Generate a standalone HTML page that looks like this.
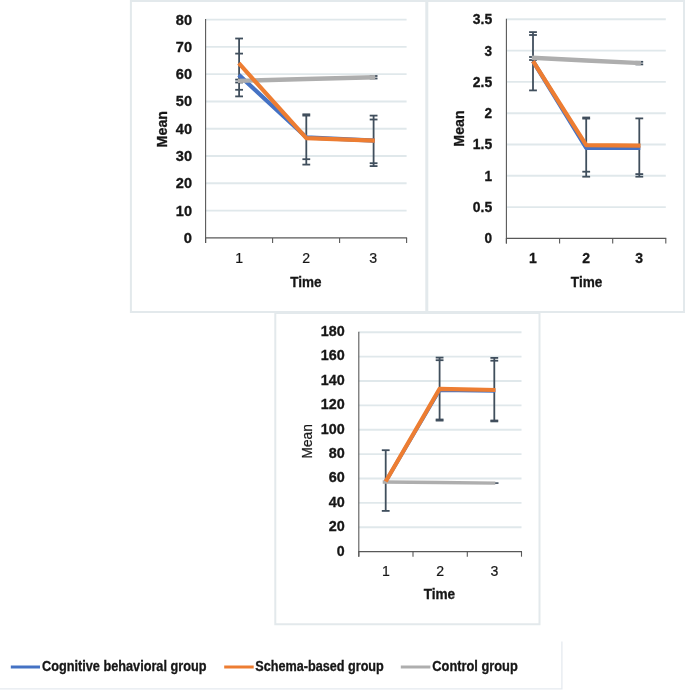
<!DOCTYPE html>
<html><head><meta charset="utf-8"><title>Figure</title>
<style>html,body{margin:0;padding:0;background:#fff;}svg{display:block;}</style></head><body>
<svg width="685" height="694" viewBox="0 0 685 694">
<defs><filter id="soft" x="0" y="0" width="685" height="694" filterUnits="userSpaceOnUse"><feGaussianBlur stdDeviation="0.45"/></filter></defs>
<rect x="0" y="0" width="685" height="694" fill="#ffffff"/>
<g filter="url(#soft)">
<path d="M130.9 311.9 V1.1 H684.0 V311.9 Z" fill="none" stroke="#E3E9EC" stroke-width="2.0"/>
<path d="M426.8 1.1 V311.9" fill="none" stroke="#E3E9EC" stroke-width="3.0"/>
<path d="M275.3 313.1 V624.3 H539.5 V313.1 Z" fill="none" stroke="#E3E9EC" stroke-width="2.0"/>
<path d="M0 688.9 H561.9 V641.6" fill="none" stroke="#E5EAEF" stroke-width="1.3"/>
<line x1="205.6" y1="210.61" x2="406.6" y2="210.61" stroke="#E0E8EB" stroke-width="1.9"/>
<line x1="205.6" y1="183.32" x2="406.6" y2="183.32" stroke="#E0E8EB" stroke-width="1.9"/>
<line x1="205.6" y1="156.03" x2="406.6" y2="156.03" stroke="#E0E8EB" stroke-width="1.9"/>
<line x1="205.6" y1="128.74" x2="406.6" y2="128.74" stroke="#E0E8EB" stroke-width="1.9"/>
<line x1="205.6" y1="101.45" x2="406.6" y2="101.45" stroke="#E0E8EB" stroke-width="1.9"/>
<line x1="205.6" y1="74.16" x2="406.6" y2="74.16" stroke="#E0E8EB" stroke-width="1.9"/>
<line x1="205.6" y1="46.87" x2="406.6" y2="46.87" stroke="#E0E8EB" stroke-width="1.9"/>
<line x1="205.6" y1="19.58" x2="406.6" y2="19.58" stroke="#E0E8EB" stroke-width="1.9"/>
<line x1="205.6" y1="19.1" x2="205.6" y2="242.9" stroke="#585858" stroke-width="1.1"/>
<line x1="205.1" y1="237.9" x2="407.1" y2="237.9" stroke="#585858" stroke-width="1.3"/>
<line x1="205.6" y1="237.9" x2="205.6" y2="242.9" stroke="#585858" stroke-width="1.1"/>
<line x1="272.6" y1="237.9" x2="272.6" y2="242.9" stroke="#585858" stroke-width="1.1"/>
<line x1="339.6" y1="237.9" x2="339.6" y2="242.9" stroke="#585858" stroke-width="1.1"/>
<line x1="406.6" y1="237.9" x2="406.6" y2="242.9" stroke="#585858" stroke-width="1.1"/>
<text x="192" y="242.87" font-size="13.8" font-family="Liberation Sans, sans-serif" font-weight="bold" text-anchor="end" textLength="8.2" lengthAdjust="spacingAndGlyphs" fill="#161616" stroke="#161616" stroke-width="0.3">0</text>
<text x="192" y="215.58" font-size="13.8" font-family="Liberation Sans, sans-serif" font-weight="bold" text-anchor="end" textLength="16.2" lengthAdjust="spacingAndGlyphs" fill="#161616" stroke="#161616" stroke-width="0.3">10</text>
<text x="192" y="188.29" font-size="13.8" font-family="Liberation Sans, sans-serif" font-weight="bold" text-anchor="end" textLength="16.2" lengthAdjust="spacingAndGlyphs" fill="#161616" stroke="#161616" stroke-width="0.3">20</text>
<text x="192" y="161.0" font-size="13.8" font-family="Liberation Sans, sans-serif" font-weight="bold" text-anchor="end" textLength="16.2" lengthAdjust="spacingAndGlyphs" fill="#161616" stroke="#161616" stroke-width="0.3">30</text>
<text x="192" y="133.71" font-size="13.8" font-family="Liberation Sans, sans-serif" font-weight="bold" text-anchor="end" textLength="16.2" lengthAdjust="spacingAndGlyphs" fill="#161616" stroke="#161616" stroke-width="0.3">40</text>
<text x="192" y="106.42" font-size="13.8" font-family="Liberation Sans, sans-serif" font-weight="bold" text-anchor="end" textLength="16.2" lengthAdjust="spacingAndGlyphs" fill="#161616" stroke="#161616" stroke-width="0.3">50</text>
<text x="192" y="79.13" font-size="13.8" font-family="Liberation Sans, sans-serif" font-weight="bold" text-anchor="end" textLength="16.2" lengthAdjust="spacingAndGlyphs" fill="#161616" stroke="#161616" stroke-width="0.3">60</text>
<text x="192" y="51.84" font-size="13.8" font-family="Liberation Sans, sans-serif" font-weight="bold" text-anchor="end" textLength="16.2" lengthAdjust="spacingAndGlyphs" fill="#161616" stroke="#161616" stroke-width="0.3">70</text>
<text x="192" y="24.55" font-size="13.8" font-family="Liberation Sans, sans-serif" font-weight="bold" text-anchor="end" textLength="16.2" lengthAdjust="spacingAndGlyphs" fill="#161616" stroke="#161616" stroke-width="0.3">80</text>
<text x="239.1" y="263.3" font-size="14.1" font-family="Liberation Sans, sans-serif" text-anchor="middle" fill="#161616" stroke="#161616" stroke-width="0.2">1</text>
<text x="306.1" y="263.3" font-size="14.1" font-family="Liberation Sans, sans-serif" text-anchor="middle" fill="#161616" stroke="#161616" stroke-width="0.2">2</text>
<text x="373.1" y="263.3" font-size="14.1" font-family="Liberation Sans, sans-serif" text-anchor="middle" fill="#161616" stroke="#161616" stroke-width="0.2">3</text>
<text x="306" y="287.3" font-size="14" font-family="Liberation Sans, sans-serif" font-weight="bold" text-anchor="middle" textLength="31.3" lengthAdjust="spacingAndGlyphs" fill="#161616" stroke="#161616" stroke-width="0.3">Time</text>
<text x="166.7" y="129.2" font-size="14" font-family="Liberation Sans, sans-serif" font-weight="bold" text-anchor="middle" textLength="36.4" lengthAdjust="spacingAndGlyphs" transform="rotate(-90 166.7 129.2)" fill="#161616" stroke="#161616" stroke-width="0.3">Mean</text>
<line x1="239.1" y1="38.5" x2="239.1" y2="96.4" stroke="#414F5D" stroke-width="1.8"/>
<line x1="235.2" y1="38.5" x2="243.0" y2="38.5" stroke="#414F5D" stroke-width="1.8"/>
<line x1="235.2" y1="53.6" x2="243.0" y2="53.6" stroke="#414F5D" stroke-width="1.8"/>
<line x1="235.2" y1="79.6" x2="243.0" y2="79.6" stroke="#414F5D" stroke-width="1.8"/>
<line x1="235.2" y1="82.5" x2="243.0" y2="82.5" stroke="#414F5D" stroke-width="1.8"/>
<line x1="235.2" y1="89.8" x2="243.0" y2="89.8" stroke="#414F5D" stroke-width="1.8"/>
<line x1="235.2" y1="96.4" x2="243.0" y2="96.4" stroke="#414F5D" stroke-width="1.8"/>
<line x1="306.3" y1="114.6" x2="306.3" y2="164.6" stroke="#414F5D" stroke-width="1.8"/>
<line x1="302.40000000000003" y1="114.3" x2="310.2" y2="114.3" stroke="#414F5D" stroke-width="1.8"/>
<line x1="302.40000000000003" y1="115.6" x2="310.2" y2="115.6" stroke="#414F5D" stroke-width="1.8"/>
<line x1="302.40000000000003" y1="159.2" x2="310.2" y2="159.2" stroke="#414F5D" stroke-width="1.8"/>
<line x1="302.40000000000003" y1="164.6" x2="310.2" y2="164.6" stroke="#414F5D" stroke-width="1.8"/>
<line x1="373.6" y1="115.6" x2="373.6" y2="166.1" stroke="#414F5D" stroke-width="1.8"/>
<line x1="369.70000000000005" y1="115.6" x2="377.5" y2="115.6" stroke="#414F5D" stroke-width="1.8"/>
<line x1="369.70000000000005" y1="119.5" x2="377.5" y2="119.5" stroke="#414F5D" stroke-width="1.8"/>
<line x1="369.70000000000005" y1="163.2" x2="377.5" y2="163.2" stroke="#414F5D" stroke-width="1.8"/>
<line x1="369.70000000000005" y1="166.1" x2="377.5" y2="166.1" stroke="#414F5D" stroke-width="1.8"/>
<line x1="373.6" y1="76" x2="373.6" y2="78.5" stroke="#414F5D" stroke-width="1.8"/>
<line x1="369.70000000000005" y1="76" x2="377.5" y2="76" stroke="#414F5D" stroke-width="1.8"/>
<line x1="369.70000000000005" y1="78.5" x2="377.5" y2="78.5" stroke="#414F5D" stroke-width="1.8"/>
<polyline points="238.79999999999998,74.9 306.3,137.3 374.6,140.55" fill="none" stroke="#4472C4" stroke-width="4.2" stroke-linejoin="round" stroke-linecap="butt"/>
<polyline points="237.9,80.9 306.3,79 375.20000000000005,77.2" fill="none" stroke="#AEAEAE" stroke-width="4.4" stroke-linejoin="round" stroke-linecap="butt"/>
<polyline points="238.79999999999998,63.2 306.3,138.2 374.8,140.55" fill="none" stroke="#ED7D31" stroke-width="4.2" stroke-linejoin="round" stroke-linecap="butt"/>
<line x1="506.4" y1="207.1" x2="665.8" y2="207.1" stroke="#E0E8EB" stroke-width="1.9"/>
<line x1="506.4" y1="175.8" x2="665.8" y2="175.8" stroke="#E0E8EB" stroke-width="1.9"/>
<line x1="506.4" y1="144.5" x2="665.8" y2="144.5" stroke="#E0E8EB" stroke-width="1.9"/>
<line x1="506.4" y1="113.2" x2="665.8" y2="113.2" stroke="#E0E8EB" stroke-width="1.9"/>
<line x1="506.4" y1="81.9" x2="665.8" y2="81.9" stroke="#E0E8EB" stroke-width="1.9"/>
<line x1="506.4" y1="50.6" x2="665.8" y2="50.6" stroke="#E0E8EB" stroke-width="1.9"/>
<line x1="506.4" y1="19.3" x2="665.8" y2="19.3" stroke="#E0E8EB" stroke-width="1.9"/>
<line x1="506.4" y1="18.8" x2="506.4" y2="243.4" stroke="#585858" stroke-width="1.1"/>
<line x1="505.9" y1="238.4" x2="666.3" y2="238.4" stroke="#585858" stroke-width="1.3"/>
<line x1="506.4" y1="238.4" x2="506.4" y2="243.4" stroke="#585858" stroke-width="1.1"/>
<line x1="559.6" y1="238.4" x2="559.6" y2="243.4" stroke="#585858" stroke-width="1.1"/>
<line x1="612.7" y1="238.4" x2="612.7" y2="243.4" stroke="#585858" stroke-width="1.1"/>
<line x1="665.8" y1="238.4" x2="665.8" y2="243.4" stroke="#585858" stroke-width="1.1"/>
<text x="492.2" y="243.37" font-size="13.8" font-family="Liberation Sans, sans-serif" font-weight="bold" text-anchor="end" textLength="7.6" lengthAdjust="spacingAndGlyphs" fill="#161616" stroke="#161616" stroke-width="0.3">0</text>
<text x="492.2" y="212.07" font-size="13.8" font-family="Liberation Sans, sans-serif" font-weight="bold" text-anchor="end" textLength="19.4" lengthAdjust="spacingAndGlyphs" fill="#161616" stroke="#161616" stroke-width="0.3">0.5</text>
<text x="492.2" y="180.77" font-size="13.8" font-family="Liberation Sans, sans-serif" font-weight="bold" text-anchor="end" textLength="7.6" lengthAdjust="spacingAndGlyphs" fill="#161616" stroke="#161616" stroke-width="0.3">1</text>
<text x="492.2" y="149.47" font-size="13.8" font-family="Liberation Sans, sans-serif" font-weight="bold" text-anchor="end" textLength="19.4" lengthAdjust="spacingAndGlyphs" fill="#161616" stroke="#161616" stroke-width="0.3">1.5</text>
<text x="492.2" y="118.17" font-size="13.8" font-family="Liberation Sans, sans-serif" font-weight="bold" text-anchor="end" textLength="7.6" lengthAdjust="spacingAndGlyphs" fill="#161616" stroke="#161616" stroke-width="0.3">2</text>
<text x="492.2" y="86.87" font-size="13.8" font-family="Liberation Sans, sans-serif" font-weight="bold" text-anchor="end" textLength="19.4" lengthAdjust="spacingAndGlyphs" fill="#161616" stroke="#161616" stroke-width="0.3">2.5</text>
<text x="492.2" y="55.57" font-size="13.8" font-family="Liberation Sans, sans-serif" font-weight="bold" text-anchor="end" textLength="7.6" lengthAdjust="spacingAndGlyphs" fill="#161616" stroke="#161616" stroke-width="0.3">3</text>
<text x="492.2" y="24.27" font-size="13.8" font-family="Liberation Sans, sans-serif" font-weight="bold" text-anchor="end" textLength="19.4" lengthAdjust="spacingAndGlyphs" fill="#161616" stroke="#161616" stroke-width="0.3">3.5</text>
<text x="533.0" y="263.3" font-size="14.0" font-family="Liberation Sans, sans-serif" font-weight="bold" text-anchor="middle" fill="#161616" stroke="#161616" stroke-width="0.3">1</text>
<text x="586.2" y="263.3" font-size="14.0" font-family="Liberation Sans, sans-serif" font-weight="bold" text-anchor="middle" fill="#161616" stroke="#161616" stroke-width="0.3">2</text>
<text x="639.2" y="263.3" font-size="14.0" font-family="Liberation Sans, sans-serif" font-weight="bold" text-anchor="middle" fill="#161616" stroke="#161616" stroke-width="0.3">3</text>
<text x="586.6" y="287.3" font-size="14" font-family="Liberation Sans, sans-serif" font-weight="bold" text-anchor="middle" textLength="31.5" lengthAdjust="spacingAndGlyphs" fill="#161616" stroke="#161616" stroke-width="0.3">Time</text>
<text x="463.8" y="128.5" font-size="14" font-family="Liberation Sans, sans-serif" font-weight="bold" text-anchor="middle" textLength="36.3" lengthAdjust="spacingAndGlyphs" transform="rotate(-90 463.8 128.5)" fill="#161616" stroke="#161616" stroke-width="0.3">Mean</text>
<line x1="533" y1="32.1" x2="533" y2="90.4" stroke="#414F5D" stroke-width="1.8"/>
<line x1="529.1" y1="32.1" x2="536.9" y2="32.1" stroke="#414F5D" stroke-width="1.8"/>
<line x1="529.1" y1="35" x2="536.9" y2="35" stroke="#414F5D" stroke-width="1.8"/>
<line x1="529.1" y1="57" x2="536.9" y2="57" stroke="#414F5D" stroke-width="1.8"/>
<line x1="529.1" y1="60" x2="536.9" y2="60" stroke="#414F5D" stroke-width="1.8"/>
<line x1="529.1" y1="90.4" x2="536.9" y2="90.4" stroke="#414F5D" stroke-width="1.8"/>
<line x1="586.2" y1="117.9" x2="586.2" y2="176.7" stroke="#414F5D" stroke-width="1.8"/>
<line x1="582.3000000000001" y1="117.5" x2="590.1" y2="117.5" stroke="#414F5D" stroke-width="1.8"/>
<line x1="582.3000000000001" y1="118.6" x2="590.1" y2="118.6" stroke="#414F5D" stroke-width="1.8"/>
<line x1="582.3000000000001" y1="171.7" x2="590.1" y2="171.7" stroke="#414F5D" stroke-width="1.8"/>
<line x1="582.3000000000001" y1="176.7" x2="590.1" y2="176.7" stroke="#414F5D" stroke-width="1.8"/>
<line x1="639.3" y1="118.4" x2="639.3" y2="176.7" stroke="#414F5D" stroke-width="1.8"/>
<line x1="635.4" y1="118.4" x2="643.1999999999999" y2="118.4" stroke="#414F5D" stroke-width="1.8"/>
<line x1="635.4" y1="174.1" x2="643.1999999999999" y2="174.1" stroke="#414F5D" stroke-width="1.8"/>
<line x1="635.4" y1="176.7" x2="643.1999999999999" y2="176.7" stroke="#414F5D" stroke-width="1.8"/>
<line x1="639.3" y1="61.8" x2="639.3" y2="64.4" stroke="#414F5D" stroke-width="1.8"/>
<line x1="635.4" y1="61.8" x2="643.1999999999999" y2="61.8" stroke="#414F5D" stroke-width="1.8"/>
<line x1="635.4" y1="64.4" x2="643.1999999999999" y2="64.4" stroke="#414F5D" stroke-width="1.8"/>
<polyline points="533,61.2 586.2,147.8 640.3,148" fill="none" stroke="#4472C4" stroke-width="4.2" stroke-linejoin="round" stroke-linecap="butt"/>
<polyline points="531.8,57.8 586.2,60.5 640.9,63.1" fill="none" stroke="#AEAEAE" stroke-width="4.4" stroke-linejoin="round" stroke-linecap="butt"/>
<polyline points="533,61.2 586.2,145.2 640.5,145.7" fill="none" stroke="#ED7D31" stroke-width="4.2" stroke-linejoin="round" stroke-linecap="butt"/>
<line x1="358.8" y1="527.31" x2="521.5" y2="527.31" stroke="#E0E8EB" stroke-width="1.9"/>
<line x1="358.8" y1="502.92" x2="521.5" y2="502.92" stroke="#E0E8EB" stroke-width="1.9"/>
<line x1="358.8" y1="478.53" x2="521.5" y2="478.53" stroke="#E0E8EB" stroke-width="1.9"/>
<line x1="358.8" y1="454.14" x2="521.5" y2="454.14" stroke="#E0E8EB" stroke-width="1.9"/>
<line x1="358.8" y1="429.75" x2="521.5" y2="429.75" stroke="#E0E8EB" stroke-width="1.9"/>
<line x1="358.8" y1="405.36" x2="521.5" y2="405.36" stroke="#E0E8EB" stroke-width="1.9"/>
<line x1="358.8" y1="380.97" x2="521.5" y2="380.97" stroke="#E0E8EB" stroke-width="1.9"/>
<line x1="358.8" y1="356.58" x2="521.5" y2="356.58" stroke="#E0E8EB" stroke-width="1.9"/>
<line x1="358.8" y1="332.19" x2="521.5" y2="332.19" stroke="#E0E8EB" stroke-width="1.9"/>
<line x1="358.8" y1="331.7" x2="358.8" y2="556.7" stroke="#585858" stroke-width="1.1"/>
<line x1="358.3" y1="551.7" x2="522.0" y2="551.7" stroke="#585858" stroke-width="1.3"/>
<line x1="358.8" y1="551.7" x2="358.8" y2="556.7" stroke="#585858" stroke-width="1.1"/>
<line x1="413" y1="551.7" x2="413" y2="556.7" stroke="#585858" stroke-width="1.1"/>
<line x1="467.3" y1="551.7" x2="467.3" y2="556.7" stroke="#585858" stroke-width="1.1"/>
<line x1="521.5" y1="551.7" x2="521.5" y2="556.7" stroke="#585858" stroke-width="1.1"/>
<text x="344.7" y="555.6" font-size="13.8" font-family="Liberation Sans, sans-serif" font-weight="bold" text-anchor="end" textLength="7.9" lengthAdjust="spacingAndGlyphs" fill="#161616" stroke="#161616" stroke-width="0.3">0</text>
<text x="344.7" y="531.21" font-size="13.8" font-family="Liberation Sans, sans-serif" font-weight="bold" text-anchor="end" textLength="16.0" lengthAdjust="spacingAndGlyphs" fill="#161616" stroke="#161616" stroke-width="0.3">20</text>
<text x="344.7" y="506.82" font-size="13.8" font-family="Liberation Sans, sans-serif" font-weight="bold" text-anchor="end" textLength="16.0" lengthAdjust="spacingAndGlyphs" fill="#161616" stroke="#161616" stroke-width="0.3">40</text>
<text x="344.7" y="482.43" font-size="13.8" font-family="Liberation Sans, sans-serif" font-weight="bold" text-anchor="end" textLength="16.0" lengthAdjust="spacingAndGlyphs" fill="#161616" stroke="#161616" stroke-width="0.3">60</text>
<text x="344.7" y="458.04" font-size="13.8" font-family="Liberation Sans, sans-serif" font-weight="bold" text-anchor="end" textLength="16.0" lengthAdjust="spacingAndGlyphs" fill="#161616" stroke="#161616" stroke-width="0.3">80</text>
<text x="344.7" y="433.65" font-size="13.8" font-family="Liberation Sans, sans-serif" font-weight="bold" text-anchor="end" textLength="23.9" lengthAdjust="spacingAndGlyphs" fill="#161616" stroke="#161616" stroke-width="0.3">100</text>
<text x="344.7" y="409.26" font-size="13.8" font-family="Liberation Sans, sans-serif" font-weight="bold" text-anchor="end" textLength="23.9" lengthAdjust="spacingAndGlyphs" fill="#161616" stroke="#161616" stroke-width="0.3">120</text>
<text x="344.7" y="384.87" font-size="13.8" font-family="Liberation Sans, sans-serif" font-weight="bold" text-anchor="end" textLength="23.9" lengthAdjust="spacingAndGlyphs" fill="#161616" stroke="#161616" stroke-width="0.3">140</text>
<text x="344.7" y="360.48" font-size="13.8" font-family="Liberation Sans, sans-serif" font-weight="bold" text-anchor="end" textLength="23.9" lengthAdjust="spacingAndGlyphs" fill="#161616" stroke="#161616" stroke-width="0.3">160</text>
<text x="344.7" y="336.09" font-size="13.8" font-family="Liberation Sans, sans-serif" font-weight="bold" text-anchor="end" textLength="23.9" lengthAdjust="spacingAndGlyphs" fill="#161616" stroke="#161616" stroke-width="0.3">180</text>
<text x="385.9" y="575.8" font-size="14.1" font-family="Liberation Sans, sans-serif" text-anchor="middle" fill="#161616" stroke="#161616" stroke-width="0.2">1</text>
<text x="440.1" y="575.8" font-size="14.1" font-family="Liberation Sans, sans-serif" text-anchor="middle" fill="#161616" stroke="#161616" stroke-width="0.2">2</text>
<text x="494.4" y="575.8" font-size="14.1" font-family="Liberation Sans, sans-serif" text-anchor="middle" fill="#161616" stroke="#161616" stroke-width="0.2">3</text>
<text x="439.4" y="599.2" font-size="14" font-family="Liberation Sans, sans-serif" font-weight="bold" text-anchor="middle" textLength="31.5" lengthAdjust="spacingAndGlyphs" fill="#161616" stroke="#161616" stroke-width="0.3">Time</text>
<text x="311.9" y="441.3" font-size="14" font-family="Liberation Sans, sans-serif" text-anchor="middle" textLength="34.2" lengthAdjust="spacingAndGlyphs" transform="rotate(-90 311.9 441.3)" fill="#161616" stroke="#161616" stroke-width="0.2">Mean</text>
<line x1="385.7" y1="450.2" x2="385.7" y2="510.9" stroke="#414F5D" stroke-width="1.8"/>
<line x1="381.8" y1="450.2" x2="389.59999999999997" y2="450.2" stroke="#414F5D" stroke-width="1.8"/>
<line x1="381.8" y1="510.9" x2="389.59999999999997" y2="510.9" stroke="#414F5D" stroke-width="1.8"/>
<line x1="439.6" y1="357.6" x2="439.6" y2="420.2" stroke="#414F5D" stroke-width="1.8"/>
<line x1="435.70000000000005" y1="357.6" x2="443.5" y2="357.6" stroke="#414F5D" stroke-width="1.8"/>
<line x1="435.70000000000005" y1="360.2" x2="443.5" y2="360.2" stroke="#414F5D" stroke-width="1.8"/>
<line x1="435.70000000000005" y1="419.5" x2="443.5" y2="419.5" stroke="#414F5D" stroke-width="1.8"/>
<line x1="435.70000000000005" y1="420.6" x2="443.5" y2="420.6" stroke="#414F5D" stroke-width="1.8"/>
<line x1="494.3" y1="357.9" x2="494.3" y2="420.9" stroke="#414F5D" stroke-width="1.8"/>
<line x1="490.40000000000003" y1="357.9" x2="498.2" y2="357.9" stroke="#414F5D" stroke-width="1.8"/>
<line x1="490.40000000000003" y1="360.7" x2="498.2" y2="360.7" stroke="#414F5D" stroke-width="1.8"/>
<line x1="490.40000000000003" y1="420.5" x2="498.2" y2="420.5" stroke="#414F5D" stroke-width="1.8"/>
<line x1="490.40000000000003" y1="421.4" x2="498.2" y2="421.4" stroke="#414F5D" stroke-width="1.8"/>
<polyline points="385.7,481.5 439.6,390.2 495.3,391.0" fill="none" stroke="#4472C4" stroke-width="3.6" stroke-linejoin="round" stroke-linecap="butt"/>
<line x1="494.3" y1="482.7" x2="494.3" y2="483.5" stroke="#414F5D" stroke-width="1.6"/>
<line x1="490.1" y1="483.1" x2="498.5" y2="483.1" stroke="#414F5D" stroke-width="1.6"/>
<polyline points="382.7,482 439.6,482.5 495.3,483.1" fill="none" stroke="#AEAEAE" stroke-width="3.3" stroke-linejoin="round" stroke-linecap="butt"/>
<polyline points="385.7,481.5 439.6,388.8 495.5,390.0" fill="none" stroke="#ED7D31" stroke-width="4.2" stroke-linejoin="round" stroke-linecap="butt"/>
<line x1="10.8" y1="667" x2="40" y2="667" stroke="#4472C4" stroke-width="3.0"/>
<text x="42" y="671.2" font-size="13.8" font-family="Liberation Sans, sans-serif" font-weight="bold" text-anchor="start" textLength="164.5" lengthAdjust="spacingAndGlyphs" fill="#161616" stroke="#161616" stroke-width="0.3">Cognitive behavioral group</text>
<line x1="224.2" y1="667" x2="253.7" y2="667" stroke="#ED7D31" stroke-width="3.0"/>
<text x="255.3" y="671.2" font-size="13.8" font-family="Liberation Sans, sans-serif" font-weight="bold" text-anchor="start" textLength="128.5" lengthAdjust="spacingAndGlyphs" fill="#161616" stroke="#161616" stroke-width="0.3">Schema-based group</text>
<line x1="400.8" y1="667" x2="430.4" y2="667" stroke="#AEAEAE" stroke-width="3.0"/>
<text x="432.3" y="671.2" font-size="13.8" font-family="Liberation Sans, sans-serif" font-weight="bold" text-anchor="start" textLength="85.5" lengthAdjust="spacingAndGlyphs" fill="#161616" stroke="#161616" stroke-width="0.3">Control group</text>
</g>
</svg></body></html>
